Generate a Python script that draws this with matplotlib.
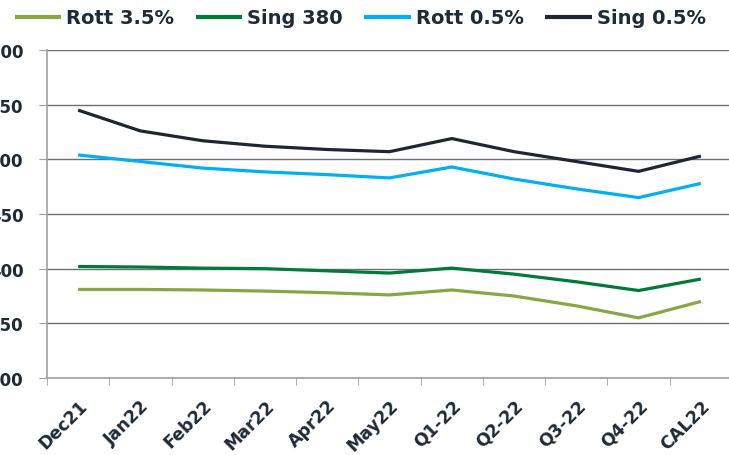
import matplotlib
matplotlib.use("Agg")
import matplotlib.pyplot as plt

categories = ["Dec21", "Jan22", "Feb22", "Mar22", "Apr22", "May22",
              "Q1-22", "Q2-22", "Q3-22", "Q4-22", "CAL22"]
rott_35 = [381, 381, 380.5, 379.5, 378, 376, 380.5, 375, 366, 355, 370]
sing_380 = [402, 401.5, 400.5, 400, 398, 396, 400.5, 395, 388, 380, 390.5]
rott_05 = [504, 498, 492, 488.5, 486, 483, 493, 482, 473, 465, 478]
sing_05 = [545, 526, 517, 512, 509, 507, 519, 507, 498, 489, 503]
yticks = [300, 350, 400, 450, 500, 550, 600]

series = [
    ("Rott 3.5%", rott_35, "#86a843"),
    ("Sing 380", sing_380, "#007a37"),
    ("Rott 0.5%", rott_05, "#00b0f0"),
    ("Sing 0.5%", sing_05, "#1f2632"),
]

text_color = "#1f2a38"
W, H = 729, 456
fig = plt.figure(figsize=(W / 100, H / 100), dpi=100)
ax = fig.add_axes([47 / W, 1 - 379 / H, (732 - 47) / W, (379 - 51) / H])

x = list(range(len(categories)))
for name, vals, col in series:
    ax.plot(x, vals, color=col, lw=2.3, label=name, solid_capstyle="butt")

ax.set_xlim(-0.5, len(categories) - 0.5)
ax.set_ylim(300, 600)
ax.set_yticks(yticks)
ax.set_yticklabels([str(v) for v in yticks])
ax.yaxis.grid(True, color="#6e6e78", lw=1.0)
ax.set_axisbelow(True)

ax.set_xticks(x)
ax.set_xticklabels(categories, rotation=45, ha="right", rotation_mode="anchor")
ax.set_xticks([i - 0.5 for i in range(len(categories) + 1)], minor=True)
ax.tick_params(axis="x", which="major", length=0, pad=13)
ax.tick_params(axis="x", which="minor", length=5, color="#a0a0a0", direction="out")
ax.tick_params(axis="y", length=6, color="#a0a0a0", direction="out", pad=11)

for lab in ax.get_xticklabels():
    lab.set_fontweight("bold")
    lab.set_fontsize(12.5)
    lab.set_color(text_color)
for lab in ax.get_yticklabels():
    lab.set_fontweight("bold")
    lab.set_fontsize(12)
    lab.set_color(text_color)

for s in ["top", "right"]:
    ax.spines[s].set_visible(False)
for s in ["left", "bottom"]:
    ax.spines[s].set_color("#a0a0a0")
    ax.spines[s].set_linewidth(1.2)

leg = fig.legend(loc="center", bbox_to_anchor=(0.494, 1 - 19 / H), ncol=4,
                 frameon=False, handlelength=2.4, handletextpad=0.25,
                 columnspacing=1.1, prop={"weight": "bold", "size": 14})
for t in leg.get_texts():
    t.set_color(text_color)
for l in leg.get_lines():
    l.set_linewidth(3)

fig.savefig("out.png", dpi=100)
